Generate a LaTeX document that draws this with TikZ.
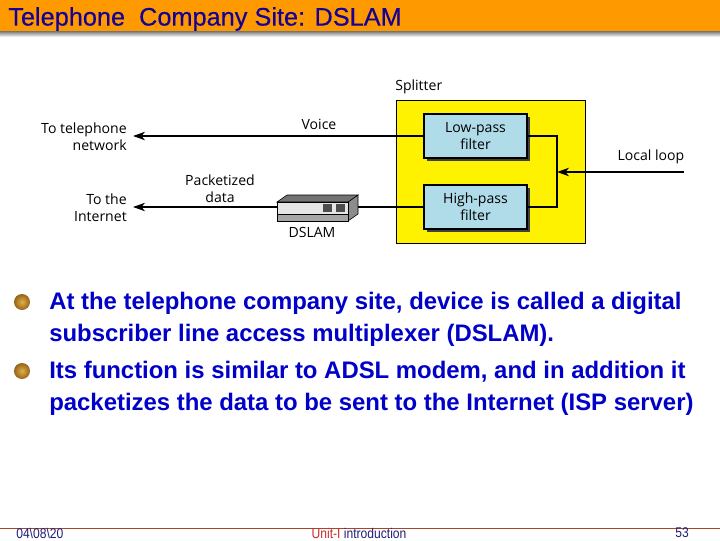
\documentclass[tikz,border=0pt]{standalone}
\usepackage{fontspec}
\setmainfont{Liberation Sans}
\newfontfamily\figfont{Open Sans}
\newfontfamily\titlefont[FakeBold=0.25]{Liberation Sans}
\usetikzlibrary{arrows.meta, shadows}
\definecolor{barorange}{RGB}{255,153,0}
\definecolor{titleblue}{RGB}{20,0,150}
\definecolor{bodyblue}{RGB}{0,0,200}
\definecolor{filterblue}{RGB}{176,220,234}
\definecolor{bulletlight}{RGB}{225,175,70}
\definecolor{bulletdark}{RGB}{150,100,25}
\definecolor{footline}{RGB}{170,70,40}
\definecolor{footred}{RGB}{200,40,40}
\definecolor{footblue}{RGB}{30,30,120}
\begin{document}
\begin{tikzpicture}[
    x=0.025cm, y=-0.025cm,
    >={Stealth[length=8.5pt, width=6pt, inset=2.5pt]},
    % Estilo para los textos de la figura
    figtext/.style={
        inner sep=0pt,
        align=center,
        font=\figfont\fontsize{10}{12.4}\selectfont
    },
    % Estilo para los filtros
    filterbox/.style={
        draw,
        line width=0.8pt,
        fill=filterblue,
        minimum width=2.575cm,
        minimum height=1.1cm,
        inner sep=0pt,
        align=center,
        font=\figfont\fontsize{10}{12.4}\selectfont,
        drop shadow={shadow xshift=2.2pt, shadow yshift=-2.2pt, fill=black!75, opacity=1}
    },
    % Estilo para las lineas
    linkline/.style={
        line width=0.9pt
    },
    % Estilo para los puntos
    bulletball/.style={
        circle,
        minimum size=0.4cm,
        inner sep=0pt,
        inner color=bulletlight,
        outer color=bulletdark
    },
    % Estilo para el texto principal
    bodytext/.style={
        anchor=west,
        inner sep=0pt,
        align=left,
        text=bodyblue,
        font=\bfseries\fontsize{17}{22.7}\selectfont
    },
    % Estilo para el pie
    foottext/.style={
        inner sep=0pt,
        font=\fontsize{10}{12}\selectfont
    }
]
    \useasboundingbox (0,0) rectangle (720,540);

    % ==========================================
    % TITULO
    % ==========================================
    \fill[top color=black!55, bottom color=white] (0,31) rectangle (720,37);
    \fill[barorange] (0,0) rectangle (720,31);
    \node[anchor=west, inner sep=0pt, text=titleblue, font=\titlefont\fontsize{18}{20}\selectfont] (title) at (8,19) {Telephone\ \ Company Site: DSLAM};

    % ==========================================
    % SPLITTER
    % ==========================================
    \node[draw, fill=yellow, minimum width=4.725cm, minimum height=3.575cm, inner sep=0pt] (splitter) at (490.5,171.5) {};
    \node[figtext, anchor=west] (splitterlabel) at (395,86.5) {Splitter};
    \node[filterbox] (lowpass) at (475.5,136) {Low-pass\\filter};
    \node[filterbox] (highpass) at (475.5,207) {High-pass\\filter};
    \coordinate (junction) at (557,172);
    \coordinate (loopend) at (684,172);
    \node[figtext] (looplabel) at (651,157) {Local loop};

    % Conexiones internas
    \draw[linkline] (lowpass.east) -| (junction) |- (highpass.east);
    \draw[linkline, ->] (loopend) -- (junction);

    % ==========================================
    % DESTINOS
    % ==========================================
    \node[figtext, anchor=east, align=right] (totel) at (127,136.5) {To telephone\\network};
    \node[figtext, anchor=east, align=right] (tonet) at (127,207.5) {To the\\Internet};
    \node[figtext] (voicelabel) at (319,124.5) {Voice};
    \node[figtext] (datalabel) at (220,188.5) {Packetized\\data};

    \draw[linkline, ->, shorten >=4.3pt] (lowpass.west) -- (totel.east |- lowpass.west);
    \draw[linkline, ->, shorten >=4.3pt] (highpass.west) -- (tonet.east |- highpass.west);

    % ==========================================
    % DSLAM
    % ==========================================
    \fill[black!45, draw=black] (348,202) -- (358,195) -- (358,214) -- (348,221) -- cycle;
    \fill[black!55, draw=black, thin] (277,202) -- (287,195) -- (358,195) -- (348,202) -- cycle;
    \node[draw, thin, fill=black!10, minimum width=1.775cm, minimum height=0.475cm, inner sep=0pt] (dslam) at (312.5,211.5) {};
    \fill[black!35, draw=black, thin] (277,214) rectangle (348,221);
    \fill[black!70] (323,204) rectangle (332,212);
    \fill[black!70] (336,204) rectangle (345,212);
    \node[figtext] (dslamlabel) at (312,232.5) {DSLAM};

    % ==========================================
    % TEXTO PRINCIPAL
    % ==========================================
    \node[bulletball] (ballone) at (22,302) {};
    \node[bulletball] (balltwo) at (22,371) {};
    \node[bodytext] (bodyone) at (49,319.5) {At the telephone company site, device is called a digital\\subscriber line access multiplexer (DSLAM).};
    \node[bodytext] (bodytwo) at (49,388.5) {Its function is similar to ADSL modem, and in addition it\\packetizes the data to be sent to the Internet (ISP server)};

    % ==========================================
    % PIE
    % ==========================================
    \coordinate (footleft) at (0,528);
    \coordinate (footright) at (720,528);
    \draw[footline] (footleft) -- (footright);
    \node[foottext, anchor=west, text=footblue] (footdate) at (16,533.5) {\scalebox{0.86}[1]{04\textbackslash 08\textbackslash 20}};
    \node[foottext] (footunit) at (359,533.5) {\scalebox{0.86}[1]{\textcolor{footred}{Unit-I }\textcolor{footblue}{introduction}}};
    \node[foottext, text=footblue] (footpage) at (682,533) {\scalebox{0.86}[1]{53}};
\end{tikzpicture}
\end{document}
